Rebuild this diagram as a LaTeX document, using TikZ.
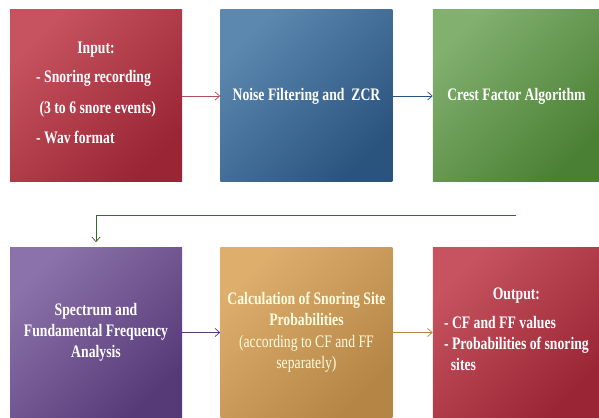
\documentclass[tikz,border=0pt]{standalone}
\usepackage{fontspec}
\setmainfont{Liberation Serif}
\newfontfamily\boxfont[FakeStretch=0.78]{Liberation Serif}
\usetikzlibrary{positioning,arrows.meta}

\definecolor{inred1}{HTML}{C6535F}
\definecolor{inred2}{HTML}{9A2535}
\definecolor{nblue1}{HTML}{5C87AF}
\definecolor{nblue2}{HTML}{2A547E}
\definecolor{cgreen1}{HTML}{82B06F}
\definecolor{cgreen2}{HTML}{4A8034}
\definecolor{spurple1}{HTML}{8C72AA}
\definecolor{spurple2}{HTML}{563A78}
\definecolor{ctan1}{HTML}{DDAE6C}
\definecolor{ctan2}{HTML}{B58546}

\begin{document}
\begin{tikzpicture}[>={Straight Barb[length=4pt,width=7pt]},
  stage/.style={minimum width=5.16cm, minimum height=5.16cm, inner sep=2pt,
    align=center, text=white, font=\boxfont\bfseries\fontsize{15}{18}\selectfont,
    shading angle=45},
  link/.style={->, line width=0.6pt}]

%%%%%%%%%%%%%%%%%%%%%%%%%%%%%%%%%%%%%%%%%%
  % Frame
  \useasboundingbox (0,0) rectangle (17.97,-12.54);

  % Top row
  \node[stage, top color=inred1, bottom color=inred2, shading angle=45] (input) at (2.88,-2.88)
    {Input:\\[8pt]
     \begin{tabular}{@{}l@{}}
     - Snoring recording\\[8pt]
     \ (3 to 6 snore events)\\[8pt]
     - Wav format
     \end{tabular}};
  \node[stage, top color=nblue1, bottom color=nblue2, shading angle=45, right=1.14cm of input] (noise)
    {Noise Filtering and \ ZCR};
  \node[stage, top color=cgreen1, bottom color=cgreen2, shading angle=45, minimum width=5.01cm,
    right=1.2cm of noise] (crest) {Crest Factor Algorithm};

  % Bottom row
  \node[stage, top color=spurple1, bottom color=spurple2, shading angle=45, minimum height=5.1cm,
    below=1.95cm of input] (spectrum)
    {Spectrum and\\Fundamental Frequency\\Analysis};
  \node[stage, top color=ctan1, bottom color=ctan2, shading angle=45, minimum height=5.1cm,
    text=yellow!12, right=1.14cm of spectrum] (calc)
    {Calculation of Snoring Site\\Probabilities\\[1pt]
     {\mdseries (according to CF and FF}\\{\mdseries separately)}};
  \node[stage, top color=inred1, bottom color=inred2, shading angle=45, minimum height=5.1cm,
    minimum width=5.01cm, right=1.2cm of calc] (output)
    {Output:\\[8pt]
     \begin{tabular}{@{}l@{}}
     - CF and FF values\\
     - Probabilities of snoring\\
     \ \ sites
     \end{tabular}};

  % Arrows
  \draw[link, inred2!80] (input) -- (noise);
  \draw[link, nblue2] (noise) -- (crest);
  \coordinate[below=0.99cm of crest.south] (back);
  \draw[link, cgreen2!80!black, shorten >=0.15cm] (back) -| (spectrum.north);
  \draw[link, spurple2] (spectrum) -- (calc);
  \draw[link, ctan2] (calc) -- (output);

\end{tikzpicture}
\end{document}
